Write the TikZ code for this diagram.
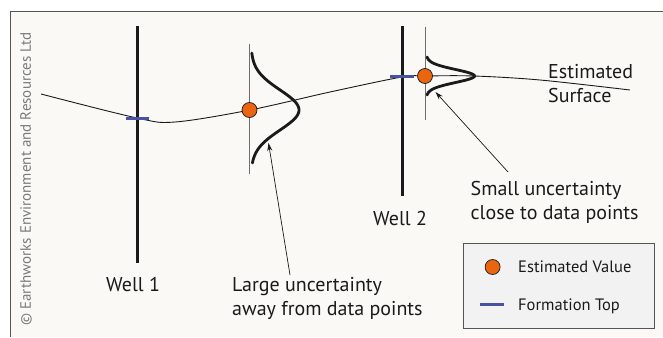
\documentclass[tikz,border=0pt]{standalone}
\usepackage{fontspec}
\setmainfont{PT Sans}
\usetikzlibrary{arrows.meta,positioning}
\definecolor{MapInk}{HTML}{1A1A1A}
\definecolor{AxisGray}{HTML}{6E6E6E}
\definecolor{FrameGray}{HTML}{555555}
\definecolor{CopyGray}{HTML}{7A7A7A}
\definecolor{PanelPaper}{HTML}{FBF9F5}
\definecolor{KeyPaper}{HTML}{F2F2F2}
\definecolor{EstOrange}{HTML}{E9650F}
\definecolor{TopBlue}{HTML}{4852A2}
\tikzset{
  every node/.style={text=MapInk},
  well/.style={draw=MapInk, line width=3pt},
  axisline/.style={draw=AxisGray, line width=0.9pt},
  surface/.style={draw=MapInk, line width=0.9pt},
  bell/.style={draw=MapInk, line width=2.8pt, line cap=round},
  formtop/.style={draw=TopBlue, line width=3pt},
  estpoint/.style={circle, draw=MapInk, line width=0.7pt, fill=EstOrange, minimum size=15pt, inner sep=0pt},
  pointer/.style={-{Stealth[length=8pt,width=5pt]}, draw=MapInk, line width=0.7pt},
  note/.style={font=\fontsize{20}{24}\selectfont, anchor=base west, align=left, inner sep=0pt},
  keytext/.style={font=\fontsize{16.5}{18}\selectfont, anchor=base west, inner sep=0pt},
  keybox/.style={draw=FrameGray, line width=1pt, fill=KeyPaper},
}
\begin{document}
\begin{tikzpicture}[x=1pt,y=-1pt]
  \useasboundingbox (0,0) rectangle (663,337);

  % Panel background with its top and left rule
  \fill[white] (0,0) rectangle (663,337);
  \fill[PanelPaper] (10,12) rectangle (663,337);
  \draw[FrameGray, line width=1pt] (10,337) -- (10,12) -- (663,12);

  % Copyright line up the left edge
  \node[rotate=90, text=CopyGray, font=\fontsize{15}{17}\selectfont] (copyline) at (26,179) {© Earthworks Environment and Resources Ltd};

  % Wells
  \draw[well] (137,26) -- (137,263);
  \draw[well] (402.5,26) -- (402.5,196);

  % Axes of the two uncertainty curves
  \draw[axisline] (249.5,44) -- (249.5,174);
  \draw[axisline] (425,27) -- (425,120);

  % Estimated surface
  \draw[surface] plot[smooth, tension=0.55] coordinates {(41,94) (137,118) (175,122) (250,110) (330,92) (402,77) (425,76) (474,76) (540,80) (630,90)};

  % Uncertainty curves: wide away from wells, narrow near Well 2
  \draw[bell] plot[variable=\t, domain=53:163, samples=70, smooth] ({251+48*exp(-(\t-110)^2/800)},\t);
  \draw[bell] plot[variable=\t, domain=57:95, samples=50, smooth] ({426.5+48*exp(-(\t-76)^2/84.5)},\t);

  % Formation tops
  \draw[formtop] (125.5,118) -- (149,118);
  \draw[formtop] (390,76.7) -- (414,76.7);

  % Estimated values
  \node[estpoint] (estA) at (249.5,110) {};
  \node[estpoint] (estB) at (425,76) {};

  % Labels (two-line notes sit on their last baseline)
  \node[note, anchor=base] (wellA) at (133,291) {Well 1};
  \node[note, anchor=base] (wellB) at (400,225) {Well 2};
  \node[note] (largelbl) at (232,315) {Large uncertainty\\away from data points};
  \node[note] (smalllbl) at (470.5,219) {Small uncertainty\\close to data points};
  \node[note] (surflbl) at (548,102.7) {Estimated\\Surface};

  % Pointers from the notes to the curves
  \coordinate (tailA) at (290,275);
  \coordinate (tipA) at (268.5,143);
  \draw[pointer] (tailA) -- (tipA);
  \coordinate (tailB) at (508,172);
  \coordinate (tipB) at (435.5,92);
  \draw[pointer] (tailB) -- (tipB);

  % Legend
  \draw[keybox] (463,243) rectangle (654.6,328);
  \node[estpoint] (keyest) at (492.6,267) {};
  \node[keytext] (keyestlbl) at (518,272.7) {Estimated Value};
  \draw[formtop] (480,304) -- (504,304);
  \node[keytext] (keytoplbl) at (518,310) {Formation Top};
\end{tikzpicture}
\end{document}
